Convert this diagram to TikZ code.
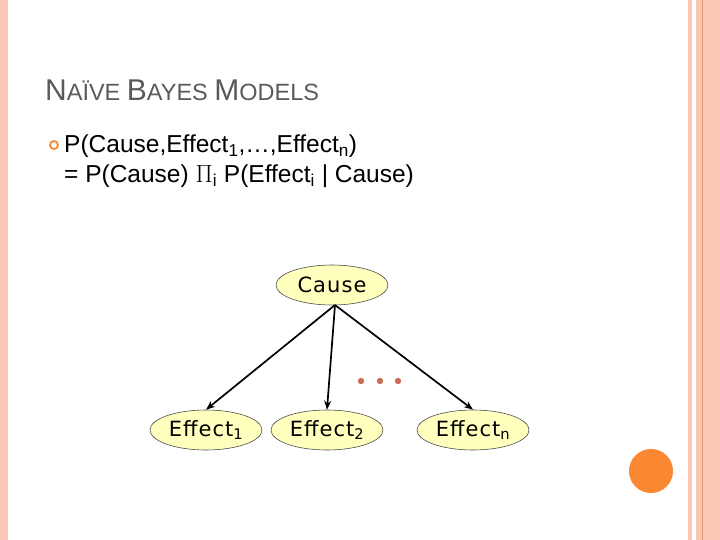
\documentclass[tikz,border=0pt]{standalone}
\usepackage{fontspec}
\setmainfont{Liberation Sans}
\newfontfamily\comic[LetterSpace=5]{DejaVu Sans}
\usetikzlibrary{shapes.geometric,arrows.meta}
\definecolor{salmon}{RGB}{250,200,180}
\definecolor{salmondk}{RGB}{225,150,120}
\definecolor{orng}{RGB}{250,135,50}
\definecolor{ttl}{RGB}{90,90,90}
\definecolor{nodefill}{RGB}{255,255,190}
\definecolor{dotc}{RGB}{200,110,90}
\tikzset{bn/.style={ellipse,draw=black!70,line width=0.6pt,fill=nodefill,minimum width=112pt,minimum height=40pt,inner sep=0pt,font=\comic\fontsize{21}{24}\selectfont},
arr/.style={-{Stealth[length=9pt,width=7pt]},line width=1.7pt}}
\begin{document}
\begin{tikzpicture}[x=1pt,y=-1pt]
\useasboundingbox (0,0) rectangle (720,540);
\fill[white] (0,0) rectangle (720,540);
\fill[salmon] (0,0) rectangle (8,540);
\fill[salmon] (688,0) rectangle (692,540);
\fill[salmon] (696,0) rectangle (720,540);
\fill[salmondk] (701.5,0) rectangle (703,540);
\fill[orng] (651,471) circle (22);
\node[anchor=base west,text=ttl,inner sep=0pt] (title) at (45,101) {\fontsize{30}{32}\selectfont N\fontsize{23.5}{26}\selectfont AÏVE \fontsize{30}{32}\selectfont B\fontsize{23.5}{26}\selectfont AYES \fontsize{30}{32}\selectfont M\fontsize{23.5}{26}\selectfont ODELS};
\node[circle,draw=orng,line width=1.8pt,minimum size=8pt,inner sep=0pt] (bul) at (54,145) {};
\node[anchor=base west,inner sep=0pt,font=\fontsize{24.5}{27}\selectfont] (l1) at (64,153) {P(Cause,Effect\textsubscript{1},\ldots,Effect\textsubscript{n})};
\node[anchor=base west,inner sep=0pt,font=\fontsize{24.5}{27}\selectfont] (l2) at (64,183) {= P(Cause) $\Pi_{\mathrm{i}}$ P(Effect\textsubscript{i} | Cause)};
\node[bn] (c) at (332,285) {Cause};
\node[bn] (e1) at (206,430) {Effect\textsubscript{1}};
\node[bn] (e2) at (327,430) {Effect\textsubscript{2}};
\node[bn] (en) at (473,430) {Effect\textsubscript{n}};
\coordinate (s) at (335,305);
\draw[arr] (s) -- (e1.north);
\draw[arr] (s) -- (e2.north);
\draw[arr] (s) -- (en.north);
\foreach \x/\n in {361/d1,380/d2,398/d3} \fill[dotc] (\x,381) circle (3.2);
\end{tikzpicture}
\end{document}
